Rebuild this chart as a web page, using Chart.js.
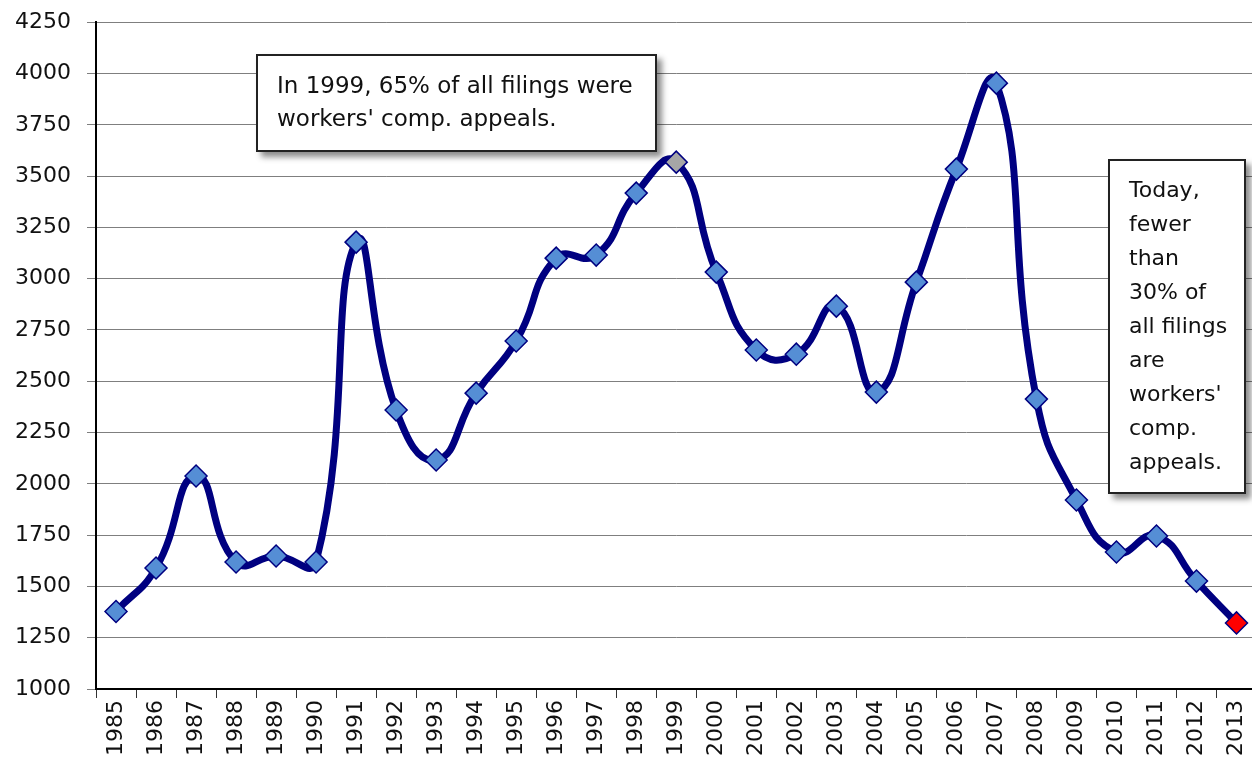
<!DOCTYPE html>
<html>
<head>
<meta charset="utf-8">
<script src="https://cdn.jsdelivr.net/npm/chart.js@4"></script>
<style>
  html, body { margin: 0; padding: 0; background: #fff; overflow: hidden; width: 1252px; height: 759px; }
  #wrap { position: absolute; left: 0; top: -7px; width: 1269px; height: 766px; }
  .note {
    position: absolute; background: #fff; border: 2px solid #222;
    box-shadow: 5px 5px 6px rgba(0,0,0,0.45);
    font-family: "DejaVu Sans", sans-serif; color: #111;
    box-sizing: border-box; white-space: nowrap;
  }
  #note1 { left: 256px; top: 54px; width: 401px; height: 98px; padding: 13px 0 0 19px; line-height: 33px; font-size: 23px; }
  #note2 { left: 1108px; top: 159px; width: 138px; height: 335px; padding: 12px 0 0 19px; line-height: 34px; font-size: 22px; }
</style>
</head>
<body>
<div id="wrap"><canvas id="c" width="1269" height="766"></canvas></div>
<div class="note" id="note1">In 1999, 65% of all filings were<br>workers' comp. appeals.</div>
<div class="note" id="note2">Today,<br>fewer<br>than<br>30% of<br>all filings<br>are<br>workers'<br>comp.<br>appeals.</div>
<script>
const years = ["1985","1986","1987","1988","1989","1990","1991","1992","1993","1994","1995","1996","1997","1998","1999","2000","2001","2002","2003","2004","2005","2006","2007","2008","2009","2010","2011","2012","2013"];
const filings = [1378,1590,2038,1619,1648,1619,3178,2360,2116,2442,2696,3100,3115,3417,3568,3032,2652,2632,2866,2447,2983,3534,3953,2413,1921,1668,1746,1526,1322];
const yTicks = [1000,1250,1500,1750,2000,2250,2500,2750,3000,3250,3500,3750,4000,4250];

const pointFill = years.map(y => y === "1999" ? "#A6A6A6" : (y === "2013" ? "#FF0000" : "#558ED5"));

new Chart(document.getElementById('c'), {
  type: 'line',
  data: {
    labels: years,
    datasets: [{
      data: filings,
      borderColor: '#000080',
      borderWidth: 7,
      tension: 0.5,
      pointStyle: 'rectRot',
      pointRadius: 11,
      pointBackgroundColor: pointFill,
      pointBorderColor: '#000080',
      pointBorderWidth: 1.5,
      fill: false
    }]
  },
  options: {
    responsive: false,
    animation: false,
    events: [],
    layout: { padding: { top: 15, right: 0, left: 0, bottom: 0 } },
    plugins: { legend: { display: false }, tooltip: { enabled: false } },
    scales: {
      x: {
        offset: true,
        grid: { offset: true, drawOnChartArea: false, drawTicks: true, tickLength: 9, color: '#333' },
        border: { color: '#000', width: 2 },
        ticks: {
          minRotation: 90, maxRotation: 90, autoSkip: false, padding: 2,
          color: '#111', font: { family: 'DejaVu Sans', size: 22 }
        },
        afterFit: s => { s.height = 70; }
      },
      y: {
        min: 1000, max: 4250,
        afterBuildTicks: s => { s.ticks = yTicks.map(v => ({ value: v })); },
        grid: { color: '#7F7F7F', lineWidth: 1, tickLength: 9 },
        border: { color: '#000', width: 2 },
        ticks: {
          padding: 16, color: '#111', font: { family: 'DejaVu Sans', size: 22 },
          callback: v => String(v)
        },
        afterFit: s => { s.width = 96; }
      }
    }
  }
});
</script>
</body>
</html>
